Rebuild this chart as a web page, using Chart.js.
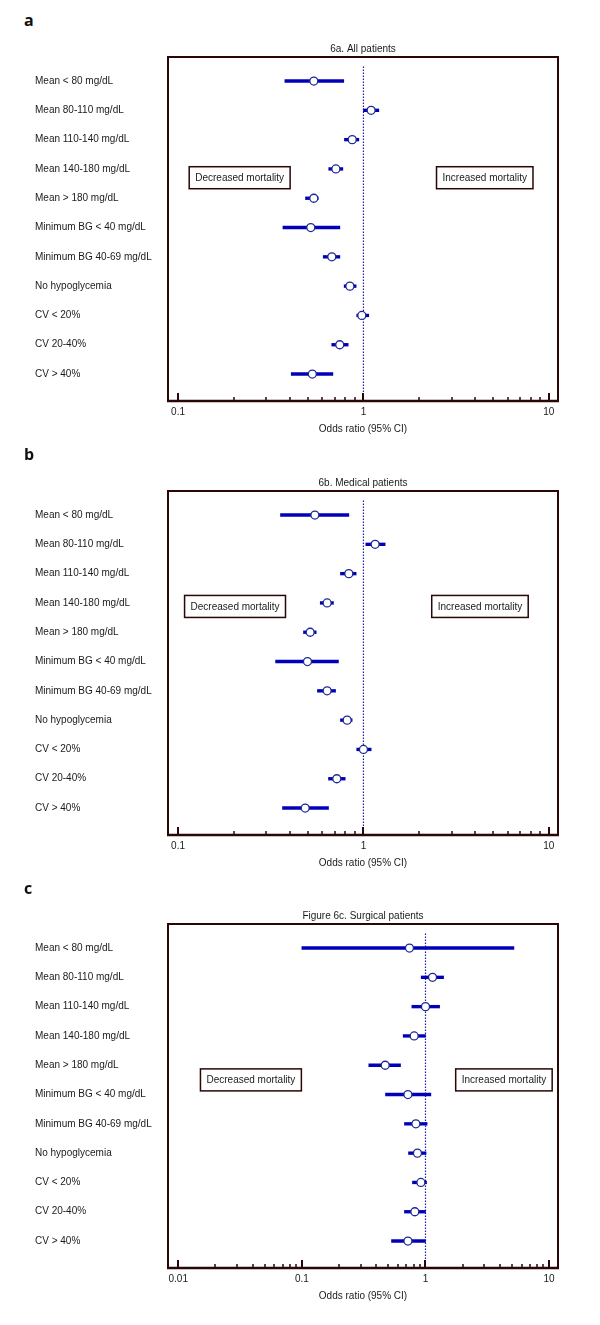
<!DOCTYPE html>
<html>
<head>
<meta charset="utf-8">
<script src="https://cdn.jsdelivr.net/npm/chart.js@4.4.1/dist/chart.umd.min.js"></script>
<style>
body { margin: 0; background: #fff; width: 600px; height: 1325px; position: relative; }
.letter { position: absolute; left: 24px; font: bold 16px/16px "Open Sans", sans-serif; color: #111; }
.panel { position: absolute; left: 0; width: 600px; height: 415px; }
</style>
</head>
<body>
<div class="letter" style="top:12px">a</div>
<div class="panel" style="top:30px"><canvas id="chartA" width="600" height="415"></canvas></div>
<div class="letter" style="top:446px">b</div>
<div class="panel" style="top:464px"><canvas id="chartB" width="600" height="415"></canvas></div>
<div class="letter" style="top:880px">c</div>
<div class="panel" style="top:897px"><canvas id="chartC" width="600" height="415"></canvas></div>
<script>
var rowLabels = ['Mean < 80 mg/dL', 'Mean 80-110 mg/dL', 'Mean 110-140 mg/dL', 'Mean 140-180 mg/dL',
    'Mean > 180 mg/dL', 'Minimum BG < 40 mg/dL', 'Minimum BG 40-69 mg/dL', 'No hypoglycemia',
    'CV < 20%', 'CV 20-40%', 'CV > 40%'];

// 6a all patients
var allOR   = [0.54, 1.10, 0.87, 0.71, 0.54, 0.52, 0.675, 0.845, 0.98, 0.745, 0.53];
var allLow  = [0.377, 1.00, 0.79, 0.65, 0.487, 0.368, 0.607, 0.787, 0.92, 0.675, 0.408];
var allHigh = [0.783, 1.21, 0.944, 0.774, 0.57, 0.746, 0.746, 0.913, 1.068, 0.827, 0.684];

// 6b medical patients
var medOR   = [0.547, 1.156, 0.834, 0.637, 0.516, 0.499, 0.637, 0.817, 1.0, 0.718, 0.485];
var medLow  = [0.357, 1.03, 0.752, 0.585, 0.475, 0.336, 0.565, 0.752, 0.92, 0.648, 0.366];
var medHigh = [0.834, 1.309, 0.913, 0.689, 0.556, 0.733, 0.707, 0.869, 1.10, 0.797, 0.648];

// 6c surgical patients
var surgOR   = [0.742, 1.14, 1.0, 0.81, 0.472, 0.721, 0.836, 0.861, 0.918, 0.82, 0.721];
var surgLow  = [0.10, 0.923, 0.776, 0.66, 0.348, 0.475, 0.676, 0.729, 0.785, 0.676, 0.531];
var surgHigh = [5.19, 1.40, 1.30, 1.0, 0.628, 1.105, 1.03, 1.01, 1.02, 1.0, 1.0];

var decadesAB = [0.1, 1, 10];
var decadesC = [0.01, 0.1, 1, 10];

var textFont = '"Liberation Sans", Arial, sans-serif';
var frameColor = '#2a0606';

function isDecade(v) {
    var l = Math.log10(v);
    return Math.abs(l - Math.round(l)) < 1e-9;
}

var framePlugin = {
    id: 'frame',
    afterDraw: function (chart) {
        var ctx = chart.ctx, a = chart.chartArea;
        var xs = chart.scales.x, ys = chart.scales.y;
        ctx.save();
        ctx.strokeStyle = frameColor;
        ctx.lineWidth = 2;
        ctx.strokeRect(a.left, a.top, a.right - a.left, a.bottom - a.top);
        ctx.lineWidth = 2.5;
        ctx.beginPath();
        ctx.moveTo(a.left - 1, a.bottom);
        ctx.lineTo(a.right + 1, a.bottom);
        ctx.stroke();
        xs.ticks.forEach(function (t) {
            var px = Math.round(xs.getPixelForValue(t.value));
            var major = isDecade(t.value);
            ctx.lineWidth = major ? 2 : 1.5;
            ctx.beginPath();
            ctx.moveTo(px, a.bottom);
            ctx.lineTo(px, a.bottom - (major ? 8 : 4));
            ctx.stroke();
        });
        // annotation boxes
        var notes = chart.options.plugins.frame.notes;
        ctx.font = '10px ' + textFont;
        ctx.textAlign = 'center';
        ctx.textBaseline = 'middle';
        notes.forEach(function (n) {
            var cx = xs.getPixelForValue(n.x), cy = ys.getPixelForValue(n.y);
            var w = ctx.measureText(n.text).width + 12, h = 22;
            ctx.fillStyle = '#fff';
            ctx.fillRect(cx - w / 2, cy - h / 2, w, h);
            ctx.lineWidth = 1.5;
            ctx.strokeStyle = frameColor;
            ctx.strokeRect(cx - w / 2, cy - h / 2, w, h);
            ctx.fillStyle = '#1a1a1a';
            ctx.fillText(n.text, cx, cy + 0.5);
        });
        ctx.restore();
    }
};

function makeForest(id, title, or, lo, hi, xMin, xMax, decades, notes) {
    var tickVals = [];
    decades.forEach(function (d) {
        for (var k = 1; k <= 9; k++) {
            var v = k * d;
            if (v >= xMin && v <= xMax) tickVals.push(v);
        }
    });

    new Chart(document.getElementById(id), {
        type: 'scatter',
        data: {
            datasets: [{
                type: 'scatter',
                data: or.map(function (v, i) { return {x: v, y: i}; }),
                pointRadius: 4,
                pointHoverRadius: 4,
                pointBackgroundColor: '#fff',
                pointBorderColor: '#1b2890',
                pointBorderWidth: 1.3,
                order: 0
            }, {
                type: 'bar',
                indexAxis: 'y',
                data: lo.map(function (v, i) { return {x: [v, hi[i]], y: i}; }),
                backgroundColor: '#0000b8',
                borderWidth: 0,
                barThickness: 2.7,
                grouped: false,
                order: 1
            }, {
                type: 'line',
                data: [{x: 1, y: -0.5}, {x: 1, y: 10.92}],
                borderColor: '#1c1ca8',
                borderWidth: 1.2,
                borderDash: [1.5, 1.5],
                pointRadius: 0,
                order: 2
            }]
        },
        options: {
            responsive: false,
            animation: false,
            layout: {padding: {top: 11, left: 35, right: 42, bottom: 8}},
            plugins: {
                legend: {display: false},
                tooltip: {enabled: false},
                title: {
                    display: true,
                    text: title,
                    fullSize: false,
                    color: '#1a1a1a',
                    font: {family: textFont, size: 10, weight: 'normal'},
                    padding: {top: 2, bottom: 2}
                },
                frame: {notes: notes}
            },
            scales: {
                x: {
                    type: 'logarithmic',
                    min: xMin,
                    max: xMax,
                    offset: false,
                    grid: {display: false, drawTicks: false},
                    border: {display: false},
                    afterBuildTicks: function (s) {
                        s.ticks = tickVals.map(function (v) { return {value: v}; });
                    },
                    ticks: {
                        autoSkip: false,
                        maxRotation: 0,
                        padding: 5,
                        color: '#1a1a1a',
                        font: {family: textFont, size: 10},
                        callback: function (v) { return isDecade(v) ? String(v) : ''; }
                    },
                    title: {
                        display: true,
                        text: 'Odds ratio (95% CI)',
                        color: '#1a1a1a',
                        font: {family: textFont, size: 10},
                        padding: {top: 0, bottom: 2}
                    }
                },
                y: {
                    type: 'linear',
                    reverse: true,
                    offset: false,
                    min: -0.82,
                    max: 10.92,
                    grid: {display: false, drawTicks: false},
                    border: {display: false},
                    afterBuildTicks: function (s) {
                        s.ticks = rowLabels.map(function (_, i) { return {value: i}; });
                    },
                    afterFit: function (s) { s.width = 133; },
                    ticks: {
                        crossAlign: 'far',
                        color: '#1a1a1a',
                        font: {family: textFont, size: 10},
                        callback: function (v) { return rowLabels[v]; }
                    }
                }
            }
        },
        plugins: [framePlugin]
    });
}

makeForest('chartA', '6a. All patients', allOR, allLow, allHigh, 0.0883, 11.2, decadesAB,
    [{text: 'Decreased mortality', x: 0.215, y: 3.3}, {text: 'Increased mortality', x: 4.51, y: 3.3}]);
makeForest('chartB', '6b. Medical patients', medOR, medLow, medHigh, 0.0883, 11.2, decadesAB,
    [{text: 'Decreased mortality', x: 0.203, y: 3.12}, {text: 'Increased mortality', x: 4.25, y: 3.12}]);
makeForest('chartC', 'Figure 6c. Surgical patients', surgOR, surgLow, surgHigh, 0.00826, 11.8, decadesC,
    [{text: 'Decreased mortality', x: 0.0387, y: 4.5}, {text: 'Increased mortality', x: 4.31, y: 4.5}]);
</script>
</body>
</html>
